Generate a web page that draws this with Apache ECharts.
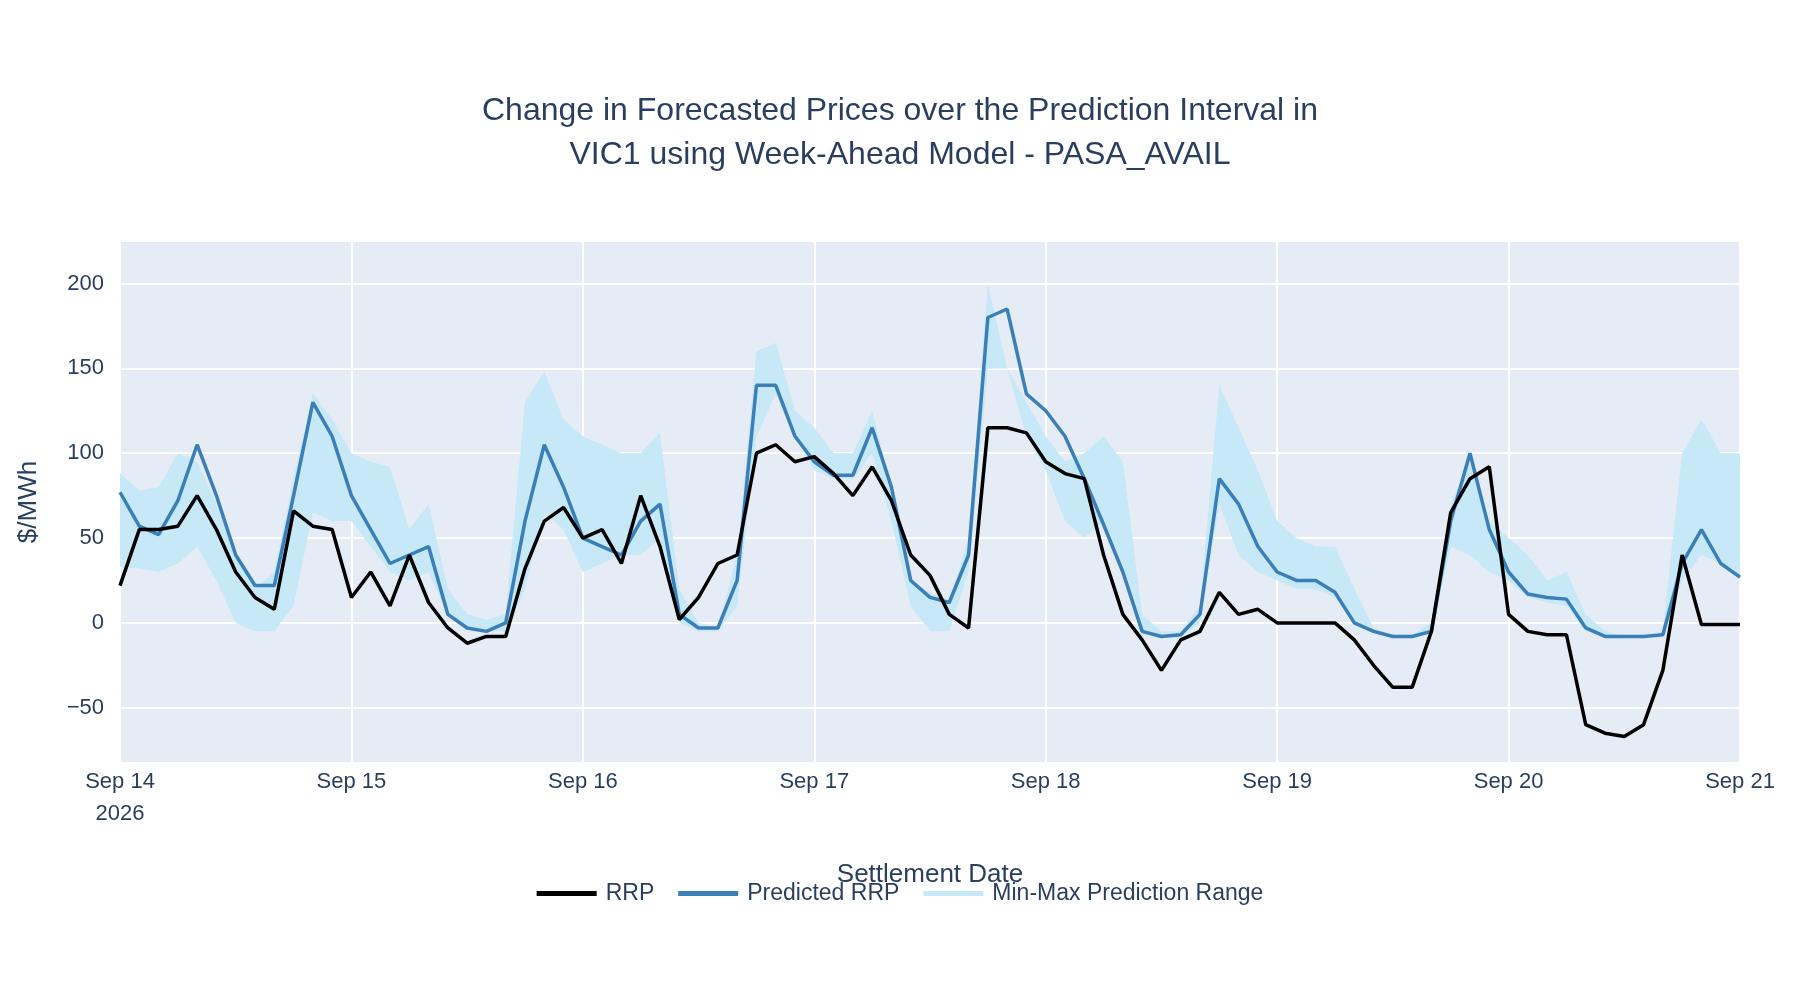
<!DOCTYPE html>
<html><head><meta charset="utf-8">
<script src="https://cdn.jsdelivr.net/npm/echarts@6/dist/echarts.min.js"></script>
<style>html,body{margin:0;background:#fff}#c{width:1800px;height:1000px}</style>
</head><body><div id="c"></div>
<script>
const startDate = '2026-09-14T00:00:00';
const stepHours = 2;
const rrp = [22,55,55,57,75,55,30,15,8,66,57,55,
 15,30,10,40,12,-3,-12,-8,-8,32,60,68,
 50,55,35,75,45,2,15,35,40,100,105,95,
 98,88,75,92,72,40,28,5,-3,115,115,112,
 95,88,85,40,5,-10,-28,-10,-5,18,5,8,
 0,0,0,0,-10,-25,-38,-38,-5,65,85,92,
 5,-5,-7,-7,-60,-65,-67,-60,-28,40,-1,-1,-1];
const predicted = [77,57,52,72,105,75,40,22,22,75,130,110,
 75,55,35,40,45,5,-3,-5,0,60,105,80,
 50,45,40,60,70,5,-3,-3,25,140,140,110,
 95,87,87,115,80,25,15,12,40,180,185,135,
 125,110,85,58,30,-5,-8,-7,5,85,70,45,
 30,25,25,18,0,-5,-8,-8,-5,60,100,55,
 30,17,15,14,-3,-8,-8,-8,-7,35,55,35,27];
const bandMax = [88,78,80,100,95,70,40,20,30,85,135,120,
 100,95,92,55,70,20,5,2,5,130,148,120,
 110,105,100,100,112,20,0,-3,40,160,165,125,
 115,100,100,125,80,25,18,12,50,200,150,130,
 110,95,100,110,95,5,-5,-5,10,140,115,90,
 60,50,45,45,20,-3,-7,-7,0,70,95,60,
 50,40,25,30,5,-5,-8,-8,-5,100,120,100,100];
const bandMin = [33,32,30,35,45,25,0,-5,-5,10,65,60,
 60,45,30,25,30,5,-3,-5,-5,20,65,55,
 30,35,40,40,50,0,-5,-5,10,110,135,110,
 90,85,85,100,60,10,-5,-5,30,150,150,110,
 90,60,50,60,30,-5,-8,-8,0,70,40,30,
 25,20,20,15,0,-5,-8,-8,-5,45,40,30,
 25,15,12,10,-5,-8,-8,-8,-8,25,40,35,28];
const yTicks = [-50,0,50,100,150,200];

const t0 = new Date(startDate).getTime();
const times = rrp.map((_, i) => t0 + i * stepHours * 3600e3);
const pair = a => a.map((v, i) => [times[i], v]);
const txt = '#2a3f5f';
const chart = echarts.init(document.getElementById('c'));
chart.setOption({
  animation: false,
  backgroundColor: '#fff',
  title: { text: 'Change in Forecasted Prices over the Prediction Interval in\nVIC1 using Week-Ahead Model - PASA_AVAIL',
    left: 'center', top: 84, textStyle: { fontFamily: 'Liberation Sans, Arial', fontSize: 32, fontWeight: 'normal', color: txt, lineHeight: 44 } },
  grid: { left: 120, right: 60, top: 242, bottom: 238, backgroundColor: '#e5ecf6', show: true, borderWidth: 0 },
  legend: { bottom: 90, left: 'center', itemWidth: 60, itemHeight: 5, itemGap: 24,
    textStyle: { fontFamily: 'Liberation Sans, Arial', fontSize: 23, color: txt, padding: [0, 0, 0, 4] },
    data: [{ name: 'RRP', icon: 'rect', itemStyle: { color: '#000' } },
           { name: 'Predicted RRP', icon: 'rect', itemStyle: { color: '#3a7fb7' } },
           { name: 'Min-Max Prediction Range', icon: 'rect', itemHeight: 14, itemStyle: { color: '#c6e8f7' } }] },
  xAxis: { type: 'time', min: t0, max: t0 + 7 * 86400e3, interval: 86400e3,
    name: 'Settlement Date', nameLocation: 'middle', nameGap: 100,
    nameTextStyle: { fontFamily: 'Liberation Sans, Arial', fontSize: 26, color: txt },
    axisLine: { show: false }, axisTick: { show: false },
    splitLine: { show: true, lineStyle: { color: '#fff', width: 2 } },
    axisLabel: { fontFamily: 'Liberation Sans, Arial', fontSize: 22, color: txt, margin: 4, lineHeight: 32, hideOverlap: false,
      showMinLabel: true, showMaxLabel: true,
      formatter: v => { const d = new Date(v); const m = ['Jan','Feb','Mar','Apr','May','Jun','Jul','Aug','Sep','Oct','Nov','Dec'][d.getMonth()];
        return m + ' ' + d.getDate() + (v === t0 ? '\n' + d.getFullYear() : ''); } } },
  yAxis: { type: 'value', min: -82, max: 224.5,
    name: '$/MWh', nameLocation: 'middle', nameGap: 78, nameRotate: 90,
    nameTextStyle: { fontFamily: 'Liberation Sans, Arial', fontSize: 26, color: txt },
    axisLine: { show: false }, axisTick: { show: false, customValues: yTicks },
    splitLine: { show: true, lineStyle: { color: '#fff', width: 2 } },
    axisLabel: { fontFamily: 'Liberation Sans, Arial', fontSize: 22, color: txt, margin: 16,
      customValues: yTicks, formatter: v => v < 0 ? '\u2212' + Math.abs(v) : String(v) } },
  series: [
    { name: 'bandBase', type: 'line', stack: 'band', stackStrategy: 'all', data: pair(bandMin), symbol: 'none',
      lineStyle: { opacity: 0 }, silent: true, legendHoverLink: false },
    { name: 'Min-Max Prediction Range', type: 'line', stack: 'band', stackStrategy: 'all', symbol: 'none',
      data: pair(bandMax.map((v, i) => v - bandMin[i])), lineStyle: { opacity: 0 },
      areaStyle: { color: '#c6e8f7', opacity: 1 }, itemStyle: { color: '#c6e8f7' } },
    { name: 'Predicted RRP', type: 'line', data: pair(predicted), symbol: 'none',
      lineStyle: { color: '#3a7fb7', width: 3.5 }, itemStyle: { color: '#3a7fb7' } },
    { name: 'RRP', type: 'line', data: pair(rrp), symbol: 'none',
      lineStyle: { color: '#000', width: 3.5 }, itemStyle: { color: '#000' } }
  ]
});
</script></body></html>
